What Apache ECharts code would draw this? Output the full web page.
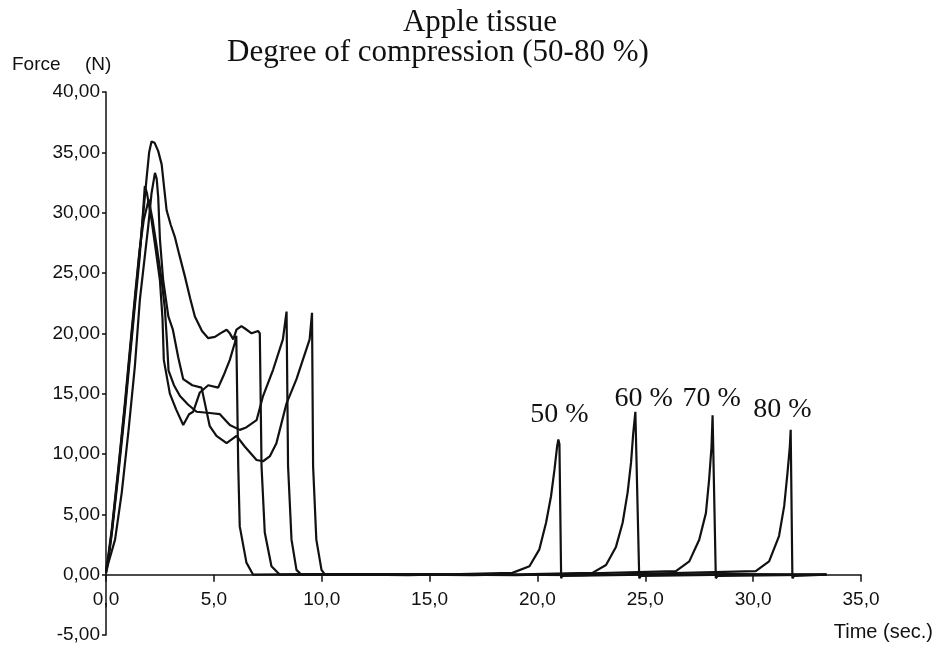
<!DOCTYPE html>
<html>
<head>
<meta charset="utf-8">
<script src="https://cdn.jsdelivr.net/npm/echarts@6/dist/echarts.min.js"></script>
<style>
html,body{margin:0;padding:0;background:#fff;}
#chart{width:937px;height:649px;}
</style>
</head>
<body>
<div id="chart"></div>
<script>
// ---- Data (time in s, force in N) ----
const xTicks = [0, 5, 10, 15, 20, 25, 30, 35];
const yTicks = [-5, 0, 5, 10, 15, 20, 25, 30, 35, 40];
const seriesNames = ['50 %', '60 %', '70 %', '80 %'];

const curve50 = [
  [0,0.2],[0.1,1.1],[0.27,3.4],[0.57,8.3],[0.88,13.6],[1.12,18.2],[1.35,22.5],[1.55,26.1],[1.7,29.6],[1.8,32.2],
  [1.9,31.6],[2.11,29.4],[2.3,27.0],[2.5,24.4],[2.62,21.2],[2.68,17.8],[2.96,15.0],[3.25,13.7],[3.58,12.4],
  [3.85,13.3],[4.04,13.5],[4.35,15.1],[4.74,15.7],[5.2,15.5],[5.45,16.5],[5.74,17.8],[5.97,19.2],[6.04,19.8],
  [6.13,9.0],[6.2,4.0],[6.51,1.0],[6.82,0.0],[10,0.05],[14,-0.05],[18.84,0.15],
  [19.63,0.7],[20.09,2.1],[20.4,4.3],[20.63,6.5],[20.79,8.7],[20.91,10.6],[20.97,11.2],[21.02,10.8],[21.1,-0.3],
  [21.15,-0.1],[25,0.0],[29,0.05],[33.4,0.0]
];
const curve60 = [
  [0,0.3],[0.1,1.3],[0.27,3.6],[0.57,8.6],[0.88,14.0],[1.12,18.6],[1.35,22.9],[1.55,26.6],[1.73,30.0],[1.9,33.2],
  [2.0,35.0],[2.11,35.9],[2.25,35.8],[2.42,35.1],[2.58,34.0],[2.7,32.0],[2.81,30.2],[3.0,29.0],[3.19,28.0],
  [3.4,26.5],[3.66,24.7],[3.9,22.9],[4.12,21.4],[4.45,20.2],[4.74,19.6],[5.05,19.7],[5.3,20.0],[5.59,20.3],
  [5.74,20.0],[5.9,19.5],[6.05,20.3],[6.28,20.6],[6.44,20.4],[6.75,20.0],[7.05,20.2],[7.13,20.0],
  [7.21,9.0],[7.36,3.5],[7.67,0.7],[8.06,0.0],[12,0.05],[17,-0.05],[22.55,0.15],
  [23.18,0.8],[23.64,2.3],[23.95,4.3],[24.18,6.8],[24.34,9.3],[24.44,11.7],[24.54,13.5],[24.72,-0.3],
  [24.8,-0.1],[29,0.0],[33.4,0.0]
];
const curve70 = [
  [0,0.4],[0.1,1.5],[0.27,3.8],[0.57,8.8],[0.88,14.3],[1.12,18.9],[1.35,23.2],[1.55,26.8],[1.75,29.4],[1.98,31.1],
  [2.15,29.5],[2.35,27.2],[2.58,24.4],[2.73,22.0],[2.82,19.5],[2.9,16.9],[3.15,15.7],[3.43,14.8],[3.8,14.1],
  [4.2,13.5],[4.81,13.4],[5.28,13.3],[5.74,12.4],[6.2,12.0],[6.5,12.2],[6.98,12.8],[7.28,14.8],[7.75,17.0],
  [8.2,19.5],[8.37,21.8],[8.44,9.0],[8.6,2.9],[8.83,0.4],[9.06,0.0],[13,0.05],[19,-0.05],[26.42,0.3],
  [27.04,1.1],[27.5,2.9],[27.81,5.1],[27.96,7.9],[28.07,10.6],[28.12,13.2],[28.27,-0.3],
  [28.35,-0.1],[33.4,0.0]
];
const curve80 = [
  [0,0.1],[0.1,0.9],[0.42,2.9],[0.73,6.8],[1.03,11.7],[1.34,17.3],[1.57,22.8],[1.73,25.3],[1.96,28.9],[2.11,31.6],
  [2.27,33.3],[2.35,32.8],[2.42,31.3],[2.5,27.8],[2.65,24.4],[2.89,21.4],[3.1,20.3],[3.35,18.0],[3.58,16.2],
  [4.0,15.7],[4.43,15.5],[4.81,12.3],[5.12,11.5],[5.59,10.9],[6.05,11.5],[6.44,10.6],[6.98,9.5],[7.28,9.4],
  [7.59,9.8],[7.9,10.9],[8.37,14.2],[8.83,16.2],[9.44,19.5],[9.55,21.7],[9.6,9.0],[9.75,2.9],[9.99,0.4],
  [10.15,0.0],[15,0.05],[22,-0.05],[30.12,0.3],
  [30.74,1.1],[31.2,3.2],[31.44,5.7],[31.59,8.4],[31.7,10.6],[31.74,12.0],[31.82,-0.3],
  [31.9,-0.1],[33.4,0.0]
];
const curves = [curve50, curve60, curve70, curve80];
// annotation anchor (in data units) for the "xx %" labels
const labelAnchors = [[21.02, 13.3], [24.92, 14.55], [28.08, 14.55], [31.36, 13.65]];

// ---- Chart ----
const fmtX = v => v.toFixed(1).replace('.', ',');
const fmtY = v => v.toFixed(2).replace('.', ',');
const ink = '#111';
const sans = 'Liberation Sans, Arial, sans-serif';
const serif = 'Liberation Serif, Times New Roman, serif';

const gridTop = 92, gridBottom = 14, H = 649;
const yMin = yTicks[0], yMax = yTicks[yTicks.length - 1];
// x axis crosses at force = 0
const xAxisOffset = -((0 - yMin) / (yMax - yMin)) * (H - gridTop - gridBottom);

const chart = echarts.init(document.getElementById('chart'), null, {renderer: 'canvas'});
const option = {
  animation: false,
  backgroundColor: '#fff',
  grid: {left: 106, right: 76, top: gridTop, bottom: gridBottom, containLabel: false, outerBoundsMode: 'none'},
  xAxis: {
    type: 'value', min: xTicks[0], max: xTicks[xTicks.length - 1], interval: 5,
    position: 'bottom', offset: xAxisOffset,
    axisLine: {show: true, onZero: false, lineStyle: {color: ink, width: 1.5}},
    axisTick: {show: true, inside: false, length: 7, lineStyle: {color: ink, width: 1.5}},
    axisLabel: {formatter: fmtX, color: ink, fontFamily: sans, fontSize: 19, margin: 16},
    splitLine: {show: false}
  },
  yAxis: {
    type: 'value', min: yMin, max: yMax, interval: 5,
    axisLine: {show: true, onZero: false, lineStyle: {color: ink, width: 1.5}},
    axisTick: {show: true, inside: false, length: 4, lineStyle: {color: ink, width: 1.5}},
    axisLabel: {formatter: fmtY, color: ink, fontFamily: sans, fontSize: 19, margin: 6},
    splitLine: {show: false}
  },
  series: curves.map((c, i) => ({
    name: seriesNames[i],
    type: 'line',
    data: c,
    showSymbol: false,
    symbol: 'none',
    smooth: false,
    lineStyle: {color: ink, width: 2.2},
    z: 3,
    markPoint: {
      symbol: 'circle', symbolSize: 0, silent: true,
      label: {show: true, position: 'inside', formatter: seriesNames[i], color: ink, fontFamily: serif, fontSize: 28},
      data: [{coord: labelAnchors[i], value: 0}]
    }
  })),
  graphic: [
    {type: 'text', x: 480, y: 23, style: {text: 'Apple tissue', font: '31px ' + serif, fill: ink, textAlign: 'center', textVerticalAlign: 'middle', verticalAlign: 'middle'}},
    {type: 'text', x: 227, y: 53, style: {text: 'Degree of compression (50-80 %)', font: '31px ' + serif, fill: ink, textAlign: 'left', textVerticalAlign: 'middle', verticalAlign: 'middle'}},
    {type: 'text', x: 12, y: 65, style: {text: 'Force', font: '19px ' + sans, fill: ink, textAlign: 'left', textVerticalAlign: 'middle', verticalAlign: 'middle'}},
    {type: 'text', x: 85, y: 65, style: {text: '(N)', font: '19px ' + sans, fill: ink, textAlign: 'left', textVerticalAlign: 'middle', verticalAlign: 'middle'}},
    {type: 'text', x: 933, y: 632, style: {text: 'Time (sec.)', font: '20px ' + sans, fill: ink, textAlign: 'right', textVerticalAlign: 'middle', verticalAlign: 'middle'}}
  ]
};
chart.setOption(option);
</script>
</body>
</html>
